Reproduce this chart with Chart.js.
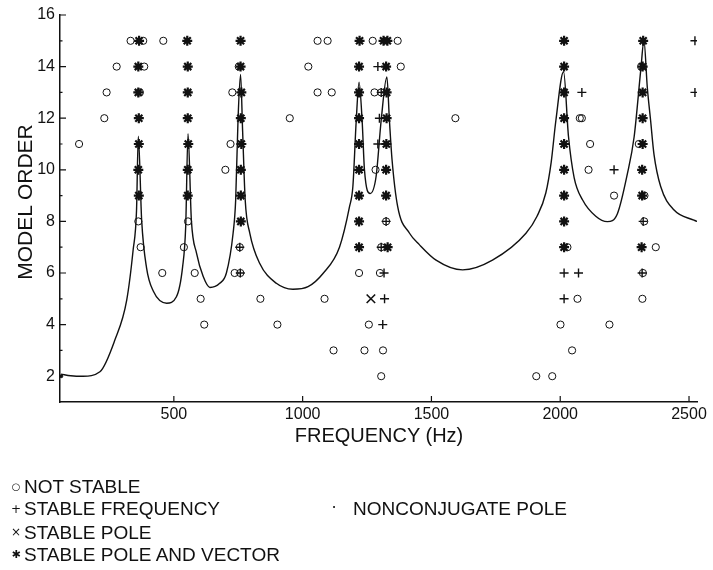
<!DOCTYPE html>
<html>
<head>
<meta charset="utf-8">
<script src="https://cdn.jsdelivr.net/npm/chart.js@4.4.0/dist/chart.umd.min.js"></script>
<style>
  body { margin: 0; background: #fff; }
  #wrap { position: relative; width: 713px; height: 570px; font-family: 'Liberation Sans', Arial, sans-serif; color: #111; }
  canvas { position: absolute; left: 0; top: 0; }
  .txt { position: absolute; white-space: nowrap; line-height: 1; }
  .ytitle { left: 24px; top: 202px; font-size: 21px; transform: translate(-50%, -50%) rotate(-90deg); }
  .xtitle { left: 379px; top: 435px; font-size: 20px; transform: translate(-50%, -50%); }
  .leg { font-size: 19px; transform: translateY(-50%); }
  .mk { position: absolute; line-height: 1; transform: translate(-50%, -50%); font-family: 'DejaVu Sans', sans-serif; }
</style>
</head>
<body>
<div id="wrap">
  <canvas id="chart" width="713" height="570"></canvas>
  <div class="txt ytitle">MODEL ORDER</div>
  <div class="txt xtitle">FREQUENCY (Hz)</div>

  <div class="mk" style="left:16px;top:487px;font-size:10px">○</div>
  <div class="txt leg" style="left:24px;top:486px">NOT STABLE</div>
  <div class="mk" style="left:16px;top:509px;font-size:12px">+</div>
  <div class="txt leg" style="left:24px;top:508px">STABLE FREQUENCY</div>
  <div class="mk" style="left:16px;top:532px;font-size:12px">×</div>
  <div class="txt leg" style="left:24px;top:532px">STABLE POLE</div>
  <div class="mk" style="left:16px;top:554px;font-size:11px;font-weight:bold">✱</div>
  <div class="txt leg" style="left:24px;top:554px">STABLE POLE AND VECTOR</div>
  <div class="mk" style="left:334px;top:508px;font-size:16px">·</div>
  <div class="txt leg" style="left:353px;top:508px">NONCONJUGATE POLE</div>
</div>

<script>
const xTickValues = [500, 1000, 1500, 2000, 2500];
const yTickValues = [2, 4, 6, 8, 10, 12, 14, 16];

// fitted response curve: [frequency, level on the order axis]
const responseCurve = [
  [62, 2.08], [100, 2.02], [147, 2.0], [213, 2.17], [271, 3.4], [317, 4.95], [342, 6.9], [355, 8.4],
  [362, 11.3], [375, 8.05], [394, 6.2], [420, 5.3], [472, 4.83], [510, 5.08], [534, 6.24], [546, 7.8],
  [555, 11.4], [568, 8.05], [588, 6.77], [614, 5.86], [640, 5.44], [678, 5.6], [704, 6.0], [730, 7.54],
  [740, 8.83], [749, 11.9], [759, 13.7], [767, 11.5], [777, 8.83], [795, 7.54], [833, 6.38], [898, 5.6],
  [962, 5.37], [1021, 5.47], [1079, 5.98], [1143, 7.0], [1182, 8.57], [1195, 9.35], [1208, 11.9],
  [1219, 13.4], [1231, 11.9], [1240, 10.0], [1262, 9.08], [1285, 9.73], [1305, 11.93], [1327, 13.6],
  [1337, 11.9], [1347, 10.4], [1369, 8.57], [1415, 7.54], [1453, 7.1], [1518, 6.5], [1621, 6.12],
  [1737, 6.5], [1867, 7.54], [1910, 8.2], [1944, 9.1], [1965, 10.3], [1983, 11.9], [2013, 13.8],
  [2032, 11.3], [2054, 9.7], [2087, 8.83], [2138, 8.2], [2183, 7.99], [2222, 8.3], [2261, 9.86],
  [2287, 11.28], [2313, 13.9], [2325, 15.0], [2338, 13.2], [2351, 11.9], [2364, 10.6], [2390, 9.35],
  [2442, 8.44], [2519, 8.05], [2531, 8.0]
];

// [frequency, model order]
const notStable = [
  [332, 15], [381, 15], [459, 15], [1058, 15], [1097, 15], [1272, 15], [1369, 15],
  [278, 14], [385, 14], [752, 14], [1022, 14], [1381, 14], [2314, 14],
  [239, 13], [368, 13], [727, 13], [1058, 13], [1113, 13], [1279, 13], [1305, 13],
  [230, 12], [950, 12], [1593, 12], [2076, 12], [2084, 12],
  [132, 11], [720, 11], [2116, 11], [2305, 11],
  [700, 10], [1283, 10], [2110, 10],
  [2209, 9], [2327, 9],
  [362, 8], [555, 8], [1324, 8], [2326, 8],
  [371, 7], [539, 7], [756, 7], [1305, 7], [2028, 7], [2371, 7],
  [455, 6], [581, 6], [736, 6], [758, 6], [1219, 6], [1300, 6], [2321, 6],
  [604, 5], [836, 5], [1085, 5], [2067, 5], [2319, 5],
  [618, 4], [902, 4], [1257, 4], [2001, 4], [2191, 4],
  [1120, 3], [1240, 3], [1312, 3], [2046, 3],
  [1305, 2], [1907, 2], [1969, 2]
];

const stableFreq = [
  [2523, 15], [1292, 14], [1305, 13], [2084, 13], [2523, 13], [1298, 12], [1292, 11],
  [2209, 10], [1324, 8], [2322, 8], [756, 7], [1305, 7],
  [758, 6], [1316, 6], [2015, 6], [2071, 6], [2318, 6],
  [1318, 5], [2015, 5], [1311, 4]
];

const stablePole = [[1265, 5]];

const stablePoleVector = [
  [365, 15], [362, 14], [362, 13], [364, 12], [364, 11], [362, 10], [364, 9],
  [552, 15], [554, 14], [554, 13], [554, 12], [556, 11], [554, 10], [554, 9],
  [759, 15], [759, 14], [762, 13], [760, 12], [762, 11], [760, 10], [760, 9], [760, 8],
  [1221, 15], [1219, 14], [1219, 13], [1219, 12], [1219, 11], [1219, 10], [1219, 9], [1219, 8], [1219, 7],
  [1314, 15], [1329, 15], [1324, 14], [1326, 13], [1326, 12], [1325, 11], [1324, 10], [1324, 9], [1330, 7],
  [2015, 15], [2015, 14], [2015, 13], [2015, 12], [2015, 11], [2015, 10], [2015, 9], [2015, 8], [2015, 7],
  [2322, 15], [2320, 14], [2320, 13], [2320, 12], [2320, 11], [2318, 10], [2318, 9], [2316, 7]
];

const nonconjugate = [[63, 2]];

const toPts = arr => arr.map(([f, o]) => ({ x: f, y: o }));
const ink = '#111';

const inwardTicks = {
  id: 'inwardTicks',
  afterDraw(chart) {
    const { ctx, chartArea: a } = chart;
    const x = chart.scales.x, y = chart.scales.y;
    ctx.save();
    ctx.strokeStyle = ink;
    ctx.lineWidth = 1.2;
    ctx.beginPath();
    for (let v = 3; v <= 16; v++) {
      const py = y.getPixelForValue(v);
      const len = v % 2 === 0 ? 6 : 2.5;
      ctx.moveTo(a.left, py);
      ctx.lineTo(a.left + len, py);
    }
    xTickValues.forEach(v => {
      const px = x.getPixelForValue(v);
      ctx.moveTo(px, a.bottom);
      ctx.lineTo(px, a.bottom - 6);
    });
    ctx.stroke();
    ctx.restore();
  }
};

new Chart(document.getElementById('chart'), {
  type: 'scatter',
  data: {
    datasets: [
      {
        label: 'curve',
        data: toPts(responseCurve),
        showLine: true,
        borderColor: ink,
        borderWidth: 1.4,
        pointRadius: 0,
        cubicInterpolationMode: 'monotone',
        fill: false
      },
      {
        label: 'NOT STABLE',
        data: toPts(notStable),
        pointStyle: 'circle',
        pointRadius: 3.6,
        borderWidth: 1,
        borderColor: ink,
        backgroundColor: 'rgba(0,0,0,0)'
      },
      {
        label: 'STABLE FREQUENCY',
        data: toPts(stableFreq),
        pointStyle: 'cross',
        pointRadius: 4.5,
        borderWidth: 1.4,
        borderColor: ink
      },
      {
        label: 'STABLE POLE',
        data: toPts(stablePole),
        pointStyle: 'crossRot',
        pointRadius: 6,
        borderWidth: 1.6,
        borderColor: ink
      },
      {
        label: 'STABLE POLE AND VECTOR',
        data: toPts(stablePoleVector),
        pointStyle: 'star',
        pointRadius: 5,
        borderWidth: 2.2,
        borderColor: ink
      },
      {
        label: 'NONCONJUGATE POLE',
        data: toPts(nonconjugate),
        pointStyle: 'circle',
        pointRadius: 1.5,
        borderWidth: 1,
        borderColor: ink,
        backgroundColor: ink
      }
    ]
  },
  options: {
    responsive: false,
    animation: false,
    events: [],
    layout: { padding: { left: 0, top: 15, right: 16, bottom: 138 } },
    plugins: { legend: { display: false }, tooltip: { enabled: false } },
    scales: {
      x: {
        type: 'linear',
        min: 58,
        max: 2531,
        afterBuildTicks: s => { s.ticks = xTickValues.map(v => ({ value: v })); },
        afterFit: s => { s.height = 30; },
        grid: { display: false, drawTicks: false },
        border: { display: true, color: ink, width: 1.5 },
        ticks: { color: ink, padding: 3, font: { size: 16 }, maxRotation: 0, callback: v => String(v) }
      },
      y: {
        type: 'linear',
        min: 1,
        max: 16,
        afterBuildTicks: s => { s.ticks = yTickValues.map(v => ({ value: v })); },
        afterFit: s => { s.width = 60; },
        grid: { display: false, drawTicks: false },
        border: { display: true, color: ink, width: 1.5 },
        ticks: { color: ink, padding: 5, font: { size: 16 }, callback: v => String(v) }
      }
    }
  },
  plugins: [inwardTicks]
});
</script>
</body>
</html>
